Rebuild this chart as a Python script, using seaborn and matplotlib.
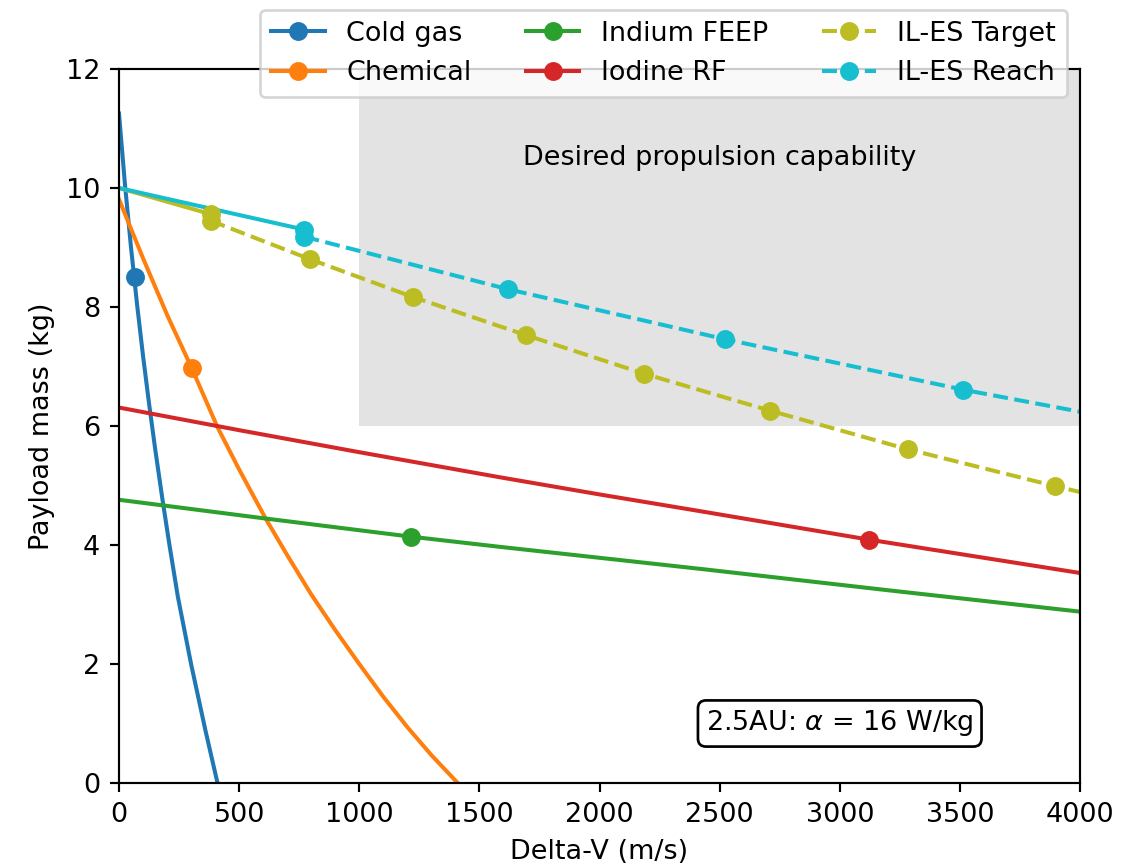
import matplotlib
matplotlib.use("Agg")
import matplotlib.pyplot as plt
import seaborn as sns
from matplotlib.lines import Line2D

# ---------------- data ----------------
cold_dv = [0, 25, 50, 75, 100, 125, 150, 180, 210, 245, 300, 360, 410]
cold_m = [11.25, 10.05, 9.0, 8.05, 7.18, 6.38, 5.63, 4.79, 4.0, 3.13, 2.0, 0.88, 0.0]
cold_mk_dv = [66]
cold_mk_m = [8.5]

chem_dv = [0, 100, 200, 303, 410, 500, 611, 700, 800, 900, 1000, 1100, 1200, 1300, 1410]
chem_m = [9.81, 8.82, 7.87, 6.97, 5.98, 5.27, 4.44, 3.83, 3.17, 2.57, 2.0, 1.45, 0.94, 0.47, 0.0]
chem_mk_dv = [303]
chem_mk_m = [6.97]

feep_dv = [0, 600, 1215, 1583, 2417, 3200, 4000]
feep_m = [4.76, 4.45, 4.14, 3.97, 3.60, 3.24, 2.88]
feep_mk_dv = [1215]
feep_mk_m = [4.14]

rf_dv = [0, 500, 1000, 1583, 2000, 2417, 3122, 4000]
rf_m = [6.31, 5.93, 5.56, 5.14, 4.85, 4.57, 4.09, 3.53]
rf_mk_dv = [3122]
rf_mk_m = [4.09]

target_solid_dv = [0, 382]
target_solid_m = [10.0, 9.56]
target_dash_dv = [382, 797, 1222, 1692, 2185, 2708, 3282, 3896, 4000]
target_dash_m = [9.45, 8.8, 8.17, 7.53, 6.88, 6.26, 5.61, 4.99, 4.89]
target_mk_dv = [382, 382, 797, 1222, 1692, 2185, 2708, 3282, 3896]
target_mk_m = [9.56, 9.45, 8.8, 8.17, 7.53, 6.88, 6.26, 5.61, 4.99]

reach_solid_dv = [0, 772]
reach_solid_m = [10.0, 9.3]
reach_dash_dv = [772, 1618, 2521, 3514, 4000]
reach_dash_m = [9.18, 8.30, 7.46, 6.61, 6.24]
reach_mk_dv = [772, 772, 1618, 2521, 3514]
reach_mk_m = [9.3, 9.18, 8.30, 7.46, 6.61]

labels = ["Cold gas", "Chemical", "Indium FEEP", "Iodine RF", "IL-ES Target", "IL-ES Reach"]
colors = ["#1f77b4", "#ff7f0e", "#2ca02c", "#d62728", "#bcbd22", "#17becf"]

region_dv = [1000, 4000]
region_m_low = 6
region_m_high = 12

x_ticks = [0, 500, 1000, 1500, 2000, 2500, 3000, 3500, 4000]
y_ticks = [0, 2, 4, 6, 8, 10, 12]

# ---------------- figure ----------------
DPI = 194
fig = plt.figure(figsize=(1137 / DPI, 867 / DPI), dpi=DPI)
ax = fig.add_axes([119 / 1137, 1 - 783 / 867, (1080 - 119) / 1137, (783 - 69) / 867])

ax.fill_between(region_dv, region_m_low, region_m_high, color="#e3e3e3",
                linewidth=0, zorder=0)


def draw_line(dv, m, color, ls="-"):
    sns.lineplot(x=dv, y=m, color=color, linestyle=ls, linewidth=1.5, ax=ax,
                 legend=False, sort=False, estimator=None, zorder=2)


def draw_markers(dv, m, color):
    sns.scatterplot(x=dv, y=m, color=color, s=36, edgecolor=color, linewidth=1,
                    ax=ax, legend=False, zorder=3)


draw_line(cold_dv, cold_m, colors[0])
draw_markers(cold_mk_dv, cold_mk_m, colors[0])
draw_line(chem_dv, chem_m, colors[1])
draw_markers(chem_mk_dv, chem_mk_m, colors[1])
draw_line(feep_dv, feep_m, colors[2])
draw_markers(feep_mk_dv, feep_mk_m, colors[2])
draw_line(rf_dv, rf_m, colors[3])
draw_markers(rf_mk_dv, rf_mk_m, colors[3])
draw_line(target_solid_dv, target_solid_m, colors[4])
draw_line(target_dash_dv, target_dash_m, colors[4], "--")
draw_markers(target_mk_dv, target_mk_m, colors[4])
draw_line(reach_solid_dv, reach_solid_m, colors[5])
draw_line(reach_dash_dv, reach_dash_m, colors[5], "--")
draw_markers(reach_mk_dv, reach_mk_m, colors[5])

ax.set_xlim(0, 4000)
ax.set_ylim(0, 12)
ax.set_xticks(x_ticks)
ax.set_yticks(y_ticks)
ax.set_xlabel("Delta-V (m/s)")
ax.set_ylabel("Payload mass (kg)")

ax.text(2500, 10.5, "Desired propulsion capability", ha="center", va="center")
ax.text(3000, 1.0, r"2.5AU: $\alpha$ = 16 W/kg", ha="center", va="center",
        bbox=dict(boxstyle="round", facecolor="white", edgecolor="black"))

styles = ["-", "-", "-", "-", "--", "--"]
handles = [Line2D([0], [0], color=c, linestyle=s, marker="o", markersize=6,
                  linewidth=1.5) for c, s in zip(colors, styles)]
fig.legend(handles, labels, ncol=3, loc="upper right",
           bbox_to_anchor=(1067 / 1137, 1 - 10 / 867),
           bbox_transform=fig.transFigure, borderaxespad=0)

fig.savefig("out.png", dpi=DPI)
